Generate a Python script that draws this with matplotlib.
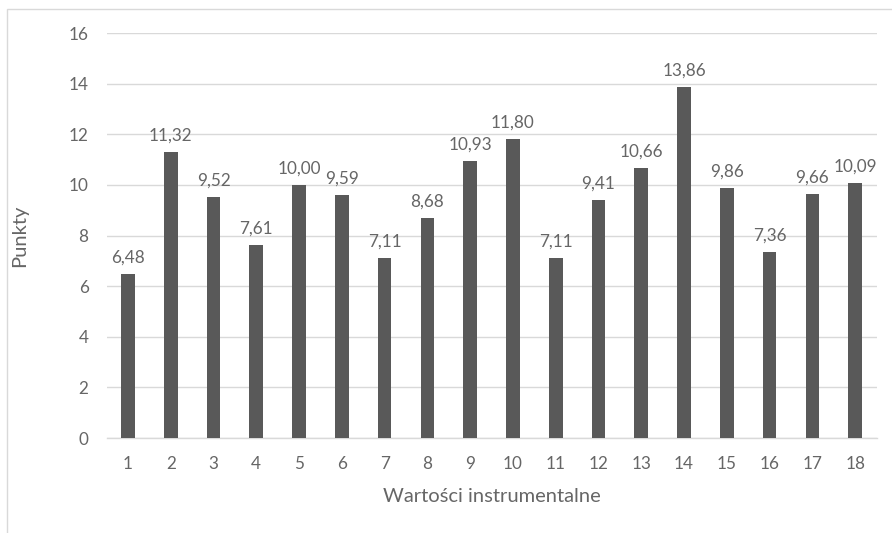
import matplotlib
matplotlib.use("Agg")
import matplotlib.pyplot as plt
from matplotlib.patches import Rectangle

categories = [str(i) for i in range(1, 19)]
values = [6.48, 11.32, 9.52, 7.61, 10.00, 9.59, 7.11, 8.68, 10.93, 11.80,
          7.11, 9.41, 10.66, 13.86, 9.86, 7.36, 9.66, 10.09]
y_ticks = [0, 2, 4, 6, 8, 10, 12, 14, 16]

plt.rcParams['font.family'] = ['Lato', 'DejaVu Sans']
text_color = '#666666'

fig = plt.figure(figsize=(8.92, 5.33), dpi=100)
fig.patches.append(Rectangle((7 / 892, -0.1), 1.2, (533 - 9) / 533 + 0.1,
                             transform=fig.transFigure, fill=False,
                             edgecolor='#d9d9d9', linewidth=1.0))
ax = fig.add_axes([0.1195, 0.1782, 0.8632, 0.7598])

x = list(range(len(categories)))
ax.bar(x, values, width=0.32, color='#595959', zorder=3)
for xi, v in zip(x, values):
    ax.annotate(f"{v:.2f}".replace('.', ','), (xi, v), xytext=(0, 6),
                textcoords='offset points', ha='center', va='bottom',
                fontsize=12.3, color=text_color)

ax.set_xlim(-0.5, len(categories) - 0.5)
ax.set_ylim(0, 16)
ax.set_yticks(y_ticks)
ax.set_xticks(x)
ax.set_xticklabels(categories)
ax.yaxis.grid(True, color='#d9d9d9', linewidth=1.0, zorder=0)
ax.set_axisbelow(True)
for s in ['top', 'right', 'left']:
    ax.spines[s].set_visible(False)
ax.spines['bottom'].set_color('#d9d9d9')
ax.spines['bottom'].set_linewidth(1.0)
ax.tick_params(axis='both', length=0, labelsize=12.3, colors=text_color)
ax.tick_params(axis='x', pad=13)
ax.tick_params(axis='y', pad=13)
ax.set_xlabel('Wartości instrumentalne', fontsize=14.5, color=text_color, va='center')
ax.set_ylabel('Punkty', fontsize=14.5, color=text_color, va='center')
ax.xaxis.set_label_coords(0.5, (438 - 496) / 405)
ax.yaxis.set_label_coords((20 - 106.6) / 768, 0.5)

fig.savefig('out.png', dpi=100)
